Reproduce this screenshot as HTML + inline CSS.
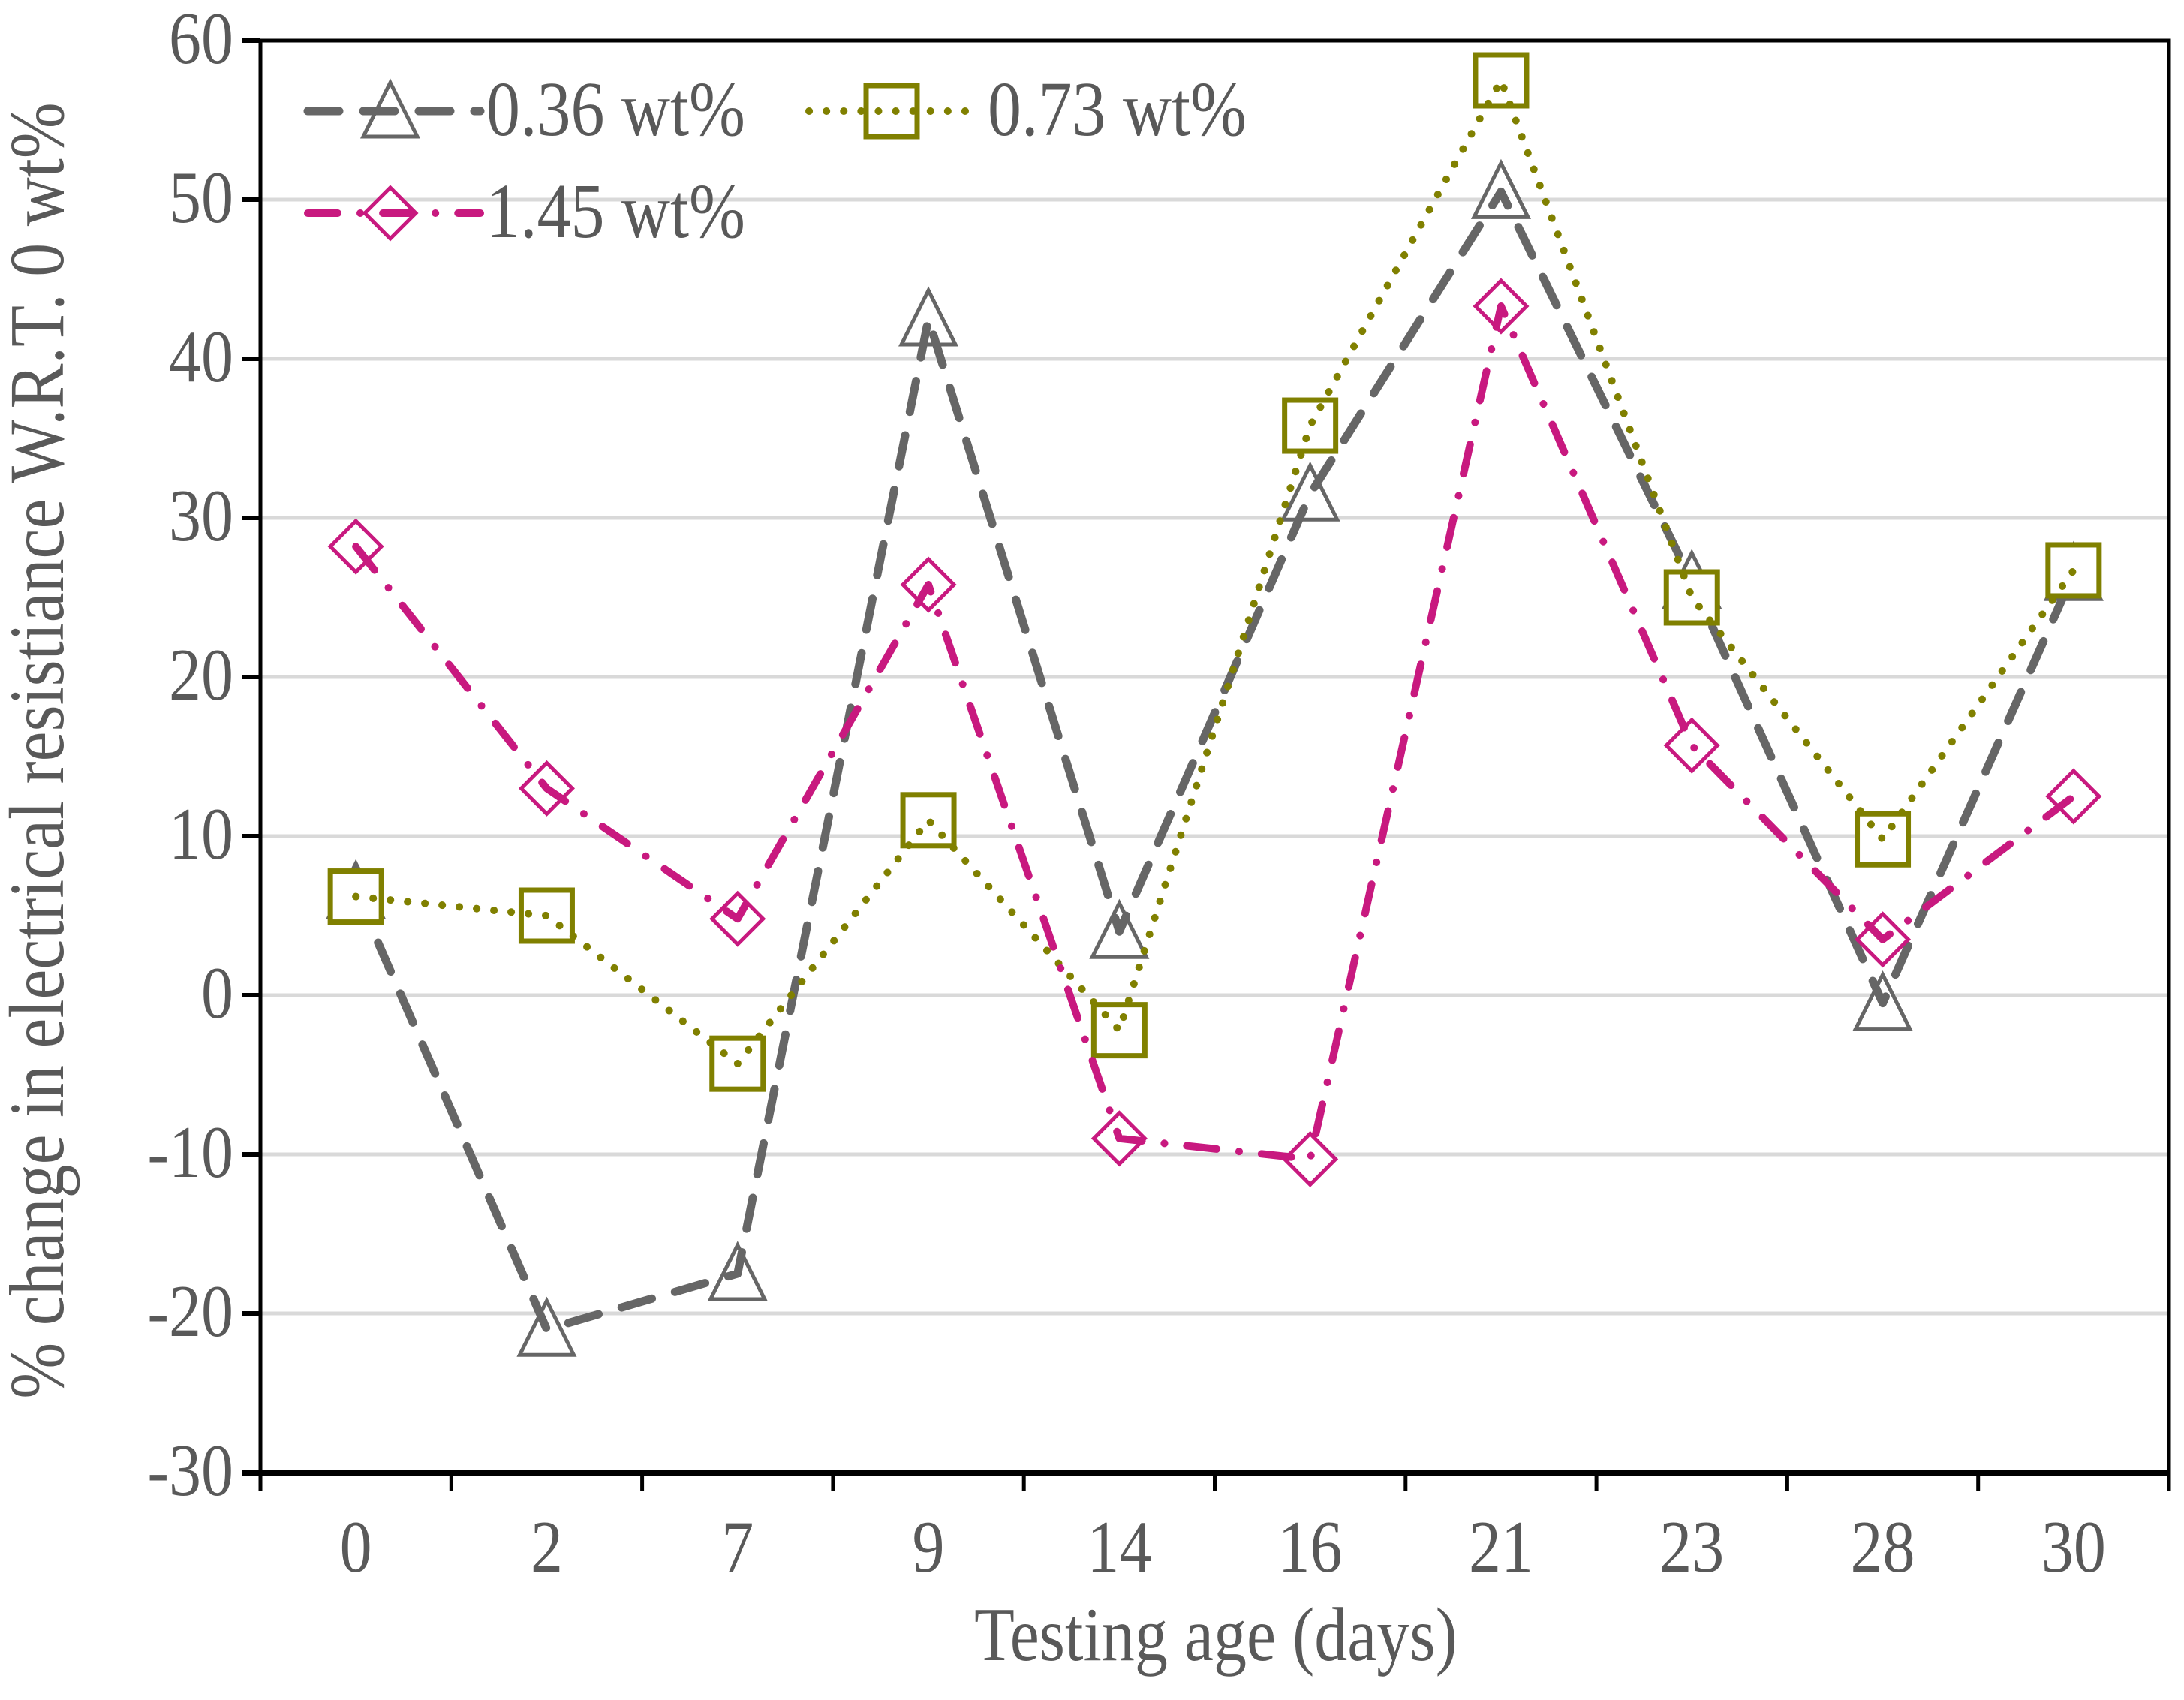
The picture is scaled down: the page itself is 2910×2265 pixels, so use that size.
<!DOCTYPE html>
<html><head><meta charset="utf-8"><style>
html,body{margin:0;padding:0;background:#fff}
svg{display:block}
text{font-family:"Liberation Serif",serif;fill:#595959}
</style></head><body>
<svg id="chart" width="2910" height="2265" viewBox="0 0 2910 2265">
<g id="grid"></g><g id="axes"></g><g id="series"></g><g id="legend"></g>
<text transform="translate(1620,2212) scale(1,1.15)" font-size="88" text-anchor="middle">Testing age (days)</text>
<text transform="translate(84,1000) rotate(-90) scale(1,1.15)" font-size="90" text-anchor="middle">% change in electrical resistiance W.R.T. 0 wt%</text>
</svg>
<script>
const categories = ["0","2","7","9","14","16","21","23","28","30"];
const s036 = [6.5,-21,-17.5,42.5,4,31.5,50.5,26,-0.5,26.5];
const s073 = [6.2,5,-4.3,11,-2.2,35.8,57.5,25,9.8,26.7];
const s145 = [28.2,13,4.8,25.8,-9,-10.3,43.3,15.7,3.5,12.5];
const yTicks = [-30,-20,-10,0,10,20,30,40,50,60];

const NS="http://www.w3.org/2000/svg";
const L=347,R=2890,T=54,B=1962,yMin=-30,yMax=60;
const bw=(R-L)/categories.length;
function xs(i){return L+bw*(i+0.5);}
function ys(v){return B-(v-yMin)/(yMax-yMin)*(B-T);}
function mk(tag,at,parent){const e=document.createElementNS(NS,tag);for(const k in at)e.setAttribute(k,at[k]);parent.appendChild(e);return e;}
const grid=document.getElementById('grid'),axes=document.getElementById('axes'),ser=document.getElementById('series'),leg=document.getElementById('legend');
yTicks.forEach(v=>{
  const y=ys(v);
  if(v>yMin&&v<yMax){const g=mk('line',{x1:L,x2:R,y1:y,y2:y,stroke:'#d9d9d9','stroke-width':5},grid);
  
  }
  const t=mk('line',{x1:L-24,x2:L,y1:y,y2:y,stroke:'#000','stroke-width':6},axes);
  
  
  const tx=mk('text',{transform:`translate(${L-36},${y+30}) scale(1,1.15)`,'font-size':86,'text-anchor':'end'},axes);tx.textContent=v;
  
  
});
const fr=mk('rect',{x:L,y:T,width:R-L,height:B-T,fill:'none',stroke:'#000','stroke-width':5},axes);


const xa=mk('line',{x1:L-24,x2:R,y1:B,y2:B,stroke:'#000','stroke-width':8},axes);


for(let i=0;i<=categories.length;i++){
  const t=mk('line',{x1:L+bw*i,x2:L+bw*i,y1:B,y2:B+24,stroke:'#000','stroke-width':5},axes);
  
  
}
categories.forEach((c,i)=>{
  const tx=mk('text',{transform:`translate(${xs(i)},${B+132}) scale(1,1.15)`,'font-size':86,'text-anchor':'middle'},axes);tx.textContent=c;
  
  
});
function marker(shape,x,y,color,parent){
  let e;
  if(shape==='tri') e=mk('polygon',{points:`${x},${y-38} ${x-36},${y+34} ${x+36},${y+34}`,fill:'#fff',stroke:color,'stroke-width':5},parent);
  else if(shape==='sq') e=mk('rect',{x:x-34,y:y-34,width:68,height:68,fill:'#fff',stroke:color,'stroke-width':7},parent);
  else e=mk('polygon',{points:`${x},${y-34} ${x+34},${y} ${x},${y+34} ${x-34},${y}`,fill:'#fff',stroke:color,'stroke-width':5},parent);
  return e;
}
const defs=[
 {d:s036,c:'#666666',dash:'42 32',cap:'round',w:11,m:'tri',name:'series-0-36'},
 {d:s073,c:'#808000',dash:'0.1 23',cap:'round',w:10,m:'sq',name:'series-0-73'},
 {d:s145,c:'#c8197f',dash:'40 30 0.1 30',cap:'round',w:10,m:'dia',name:'series-1-45'}
];
defs.forEach(s=>{
  const g=mk('g',{},ser);
  
  
  s.d.forEach((v,i)=>{const m=marker(s.m,xs(i),ys(v),s.c,g);
    
    });
  const pts=s.d.map((v,i)=>xs(i)+','+ys(v)).join(' ');
  const p=mk('polyline',{points:pts,fill:'none',stroke:s.c,'stroke-width':s.w,'stroke-dasharray':s.dash,'stroke-linecap':s.cap,'stroke-linejoin':'round'},g);
  
  
});
const legItems=[
 {i:0,x1:410,label:'0.36 wt%',y:148},
 {i:1,x1:1078,label:'0.73 wt%',y:148},
 {i:2,x1:410,label:'1.45 wt%',y:284}
];
legItems.forEach(li=>{
  const s=defs[li.i];
  const g=mk('g',{},leg);
  
  
  marker(s.m,li.x1+110,li.y,s.c,g);
  mk('line',{x1:li.x1,x2:li.x1+230,y1:li.y,y2:li.y,stroke:s.c,'stroke-width':s.w,'stroke-dasharray':s.dash,'stroke-linecap':'round'},g);
  const t=mk('text',{transform:`translate(${li.x1+238},${li.y+32}) scale(1,1.15)`,'font-size':90},g);t.textContent=li.label;
});
</script>
</body></html>
